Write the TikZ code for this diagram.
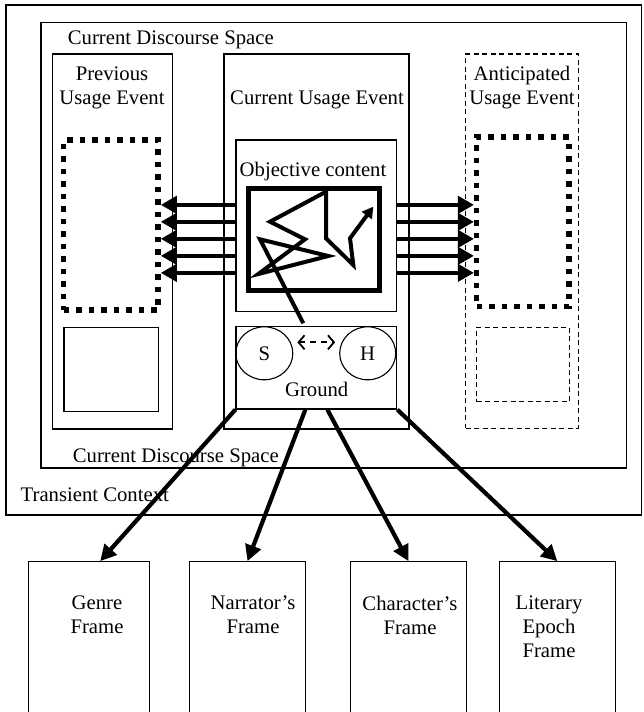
\documentclass[tikz,border=0pt]{standalone}
\usepackage{fontspec}
\setmainfont{Liberation Serif}
\usetikzlibrary{arrows.meta,fit,shapes.geometric}
\begin{document}
\begin{tikzpicture}[x=1pt,y=-1pt,font=\fontsize{20.7}{24}\selectfont,
  box/.style={draw, line width=1.1pt, inner sep=0pt},
  dashbox/.style={box, dash pattern=on 5pt off 3.5pt},
  dotbox/.style={draw, line width=5.5pt, dash pattern=on 5.5pt off 7pt, inner sep=0pt},
  lbl/.style={inner sep=0pt, align=center},
  bigarrow/.style={line width=4.5pt, -{Triangle[length=16pt,width=17pt]}},
  framearrow/.style={line width=4.2pt, -{Triangle[length=16pt,width=16pt]}}]
  \useasboundingbox (0,0) rectangle (643,712);
  \clip (0,0) rectangle (643,712);
  \node[box, fit={(6,5) (641.5,515)}] (transient) {};
  \node[box, fit={(41,22.7) (626.7,468)}] (cds) {};
  \node[box, fit={(52.5,54) (172.5,429)}] (prev) {};
  \node[box, fit={(224,54) (409,429)}] (cue) {};
  \node[dashbox, fit={(465.7,54) (578.3,428.3)}] (antic) {};
  \node[dotbox, fit={(63.5,140) (158,310)}] (prevdots) {};
  \node[dotbox, fit={(476.7,137) (569,306.7)}] (antdots) {};
  \node[box, fit={(64,327.3) (158.3,411.7)}] (prevlow) {};
  \node[dashbox, fit={(476.7,327.3) (569.3,401.7)}] (antlow) {};
  \node[box, fit={(236,140) (396.7,311.7)}] (objective) {};
  \node[draw, line width=4.7pt, inner sep=0pt, fit={(248.5,188.5) (379.5,290.5)}] (content) {};
  \node[box, fit={(236,326.7) (396.7,409)}] (ground) {};
  \node[box, ellipse, minimum width=57pt, minimum height=53pt] (spk) at (264.3,353.3) {S};
  \node[box, ellipse, minimum width=56pt, minimum height=53pt] (hrr) at (367.7,353.3) {H};
  \node[box, fit={(28.7,561.7) (149.7,725)}] (genre) {};
  \node[box, fit={(189.5,561.7) (305.5,725)}] (narrator) {};
  \node[box, fit={(350.6,561.7) (466.2,725)}] (character) {};
  \node[box, fit={(499.5,561.7) (615.1,725)}] (literary) {};
  \node[lbl, anchor=west] (cdstop) at (67.7,40) {Current Discourse Space};
  \node[lbl, anchor=west] (cdsbot) at (72.7,457.5) {Current Discourse Space};
  \node[lbl, anchor=west] (tclabel) at (20.5,495) {Transient Context};
  \node[lbl] (prevlabel) at (112,88) {Previous\\Usage Event};
  \node[lbl] (cuelabel) at (317,100) {Current Usage Event};
  \node[lbl] (antlabel) at (522,88) {Anticipated\\Usage Event};
  \node[lbl] (objlabel) at (313,171.7) {Objective content};
  \node[lbl] (groundlabel) at (316.7,389) {Ground};
  \node[lbl] (genrelabel) at (97,615) {Genre\\Frame};
  \node[lbl] (narrlabel) at (253,615) {Narrator's\\Frame};
  \node[lbl] (charlabel) at (410,615) {Character's\\Frame};
  \node[lbl] (litlabel) at (549,627) {Literary\\Epoch\\Frame};
  \foreach \d in {21,4,-13,-30,-47} {
    \draw[bigarrow] ([yshift=\d pt]objective.west) -- ([yshift=\d pt]objective.west -| prevdots.east);
    \draw[bigarrow] ([yshift=\d pt]objective.east) -- ([yshift=\d pt]objective.east -| antdots.west);
  }
  \draw[line width=4pt, -{Triangle[length=11pt,width=12pt]}] (303.3,323.3) -- (260,239.3) -- (328.3,256) -- (258.3,274) -- (305,239.3) -- (270,221.7) -- (326,191.7) -- (326,238.3) -- (353.3,265) -- (350,238.3) -- (373.3,206.7);
  \draw[line width=1.8pt, dash pattern=on 6pt off 5pt, {Straight Barb[length=6pt,width=14pt]}-{Straight Barb[length=6pt,width=14pt]}] ([xshift=4pt,yshift=11pt]spk.east) -- ([xshift=-4pt,yshift=11pt]hrr.west);
  \draw[framearrow] (ground.south west) -- ([xshift=11pt]genre.north);
  \draw[framearrow] ([xshift=-11pt]ground.south) -- (narrator.north);
  \draw[framearrow] ([xshift=11pt]ground.south) -- (character.north);
  \draw[framearrow] (ground.south east) -- (literary.north);
\end{tikzpicture}
\end{document}
